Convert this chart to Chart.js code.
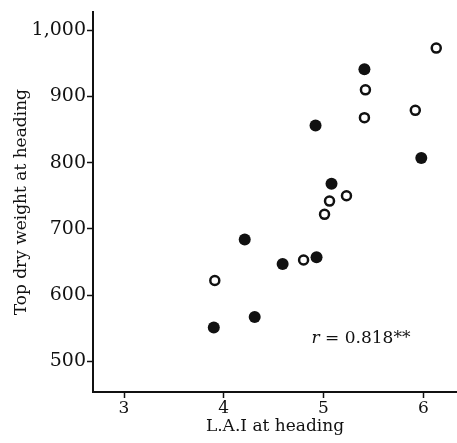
<!DOCTYPE html>
<html>
<head>
<meta charset="utf-8">
<script src="https://cdn.jsdelivr.net/npm/chart.js@4.4.1/dist/chart.umd.min.js"></script>
<style>
  html, body { margin: 0; padding: 0; background: #fff; }
  #wrap { width: 457px; height: 443px; }
</style>
</head>
<body>
<div id="wrap"><canvas id="laiChart" width="457" height="443"></canvas></div>
<script>
// data
const filledLai    = [5.41, 4.92, 5.98, 5.08, 4.21, 4.59, 4.93, 3.90, 4.31];
const filledWeight = [941, 856, 807, 768, 684, 647, 657, 551, 567];
const openLai      = [6.13, 5.42, 5.41, 5.92, 5.23, 5.06, 5.01, 4.80, 3.91];
const openWeight   = [973, 910, 868, 879, 750, 742, 722, 653, 622];
const xTicks = [3, 4, 5, 6];
const yTicks = [500, 600, 700, 800, 900, 1000];
const note = { x: 4.88, y: 528, r: 'r', rest: ' = 0.818**' };

const serif = "'DejaVu Serif', serif";
const ink = '#111';

function pts(xs, ys) { return xs.map((x, i) => ({ x: x, y: ys[i] })); }

// ── r annotation, placed through the scales ──
const notePlugin = {
    id: 'note',
    afterDatasetsDraw(chart) {
        const c = chart.ctx;
        const px = chart.scales.x.getPixelForValue(note.x);
        const py = chart.scales.y.getPixelForValue(note.y);
        c.save();
        c.fillStyle = ink;
        c.textBaseline = 'alphabetic';
        c.textAlign = 'left';
        c.font = "italic 17px " + serif;
        c.fillText(note.r, px, py);
        const w = c.measureText(note.r).width;
        c.font = "17px " + serif;
        c.fillText(note.rest, px + w, py);
        c.restore();
    }
};

new Chart(document.getElementById('laiChart'), {
    type: 'scatter',
    data: {
        datasets: [{
            data: pts(filledLai, filledWeight),
            pointRadius: 6,
            backgroundColor: ink,
            borderColor: ink,
            borderWidth: 0,
        }, {
            data: pts(openLai, openWeight),
            pointRadius: 4.5,
            backgroundColor: '#fff',
            borderColor: ink,
            borderWidth: 2.5,
        }]
    },
    options: {
        responsive: false,
        animation: false,
        layout: { autoPadding: false, padding: { top: 4, right: 0, left: 0, bottom: 0 } },
        plugins: { legend: { display: false }, tooltip: { enabled: false } },
        scales: {
            x: {
                type: 'linear',
                min: 2.689,
                max: 6.338,
                afterBuildTicks: s => { s.ticks = xTicks.map(v => ({ value: v })); },
                afterFit: s => { s.height = 51; },
                border: { display: true, color: ink, width: 2 },
                grid: { drawOnChartArea: false, drawTicks: true, tickLength: 6, tickWidth: 1.5, tickColor: ink },
                ticks: { color: ink, font: { family: serif, size: 17 }, padding: 0 },
                title: {
                    display: true,
                    text: 'L.A.I at heading',
                    color: ink,
                    font: { family: serif, size: 17 },
                    padding: { top: 0, bottom: 6 }
                }
            },
            y: {
                min: 453.7,
                max: 1026.9,
                afterBuildTicks: s => { s.ticks = yTicks.map(v => ({ value: v })); },
                afterFit: s => { s.width = 93; },
                border: { display: true, color: ink, width: 2 },
                grid: { drawOnChartArea: false, drawTicks: true, tickLength: 6, tickWidth: 1.5, tickColor: ink },
                ticks: {
                    color: ink,
                    font: { family: serif, size: 19 },
                    padding: 1,
                    callback: v => v.toLocaleString('en-US')
                },
                title: {
                    display: true,
                    text: 'Top dry weight at heading',
                    color: ink,
                    font: { family: serif, size: 17 },
                    padding: { top: 11, bottom: 0 }
                }
            }
        }
    },
    plugins: [notePlugin]
});
</script>
</body>
</html>
